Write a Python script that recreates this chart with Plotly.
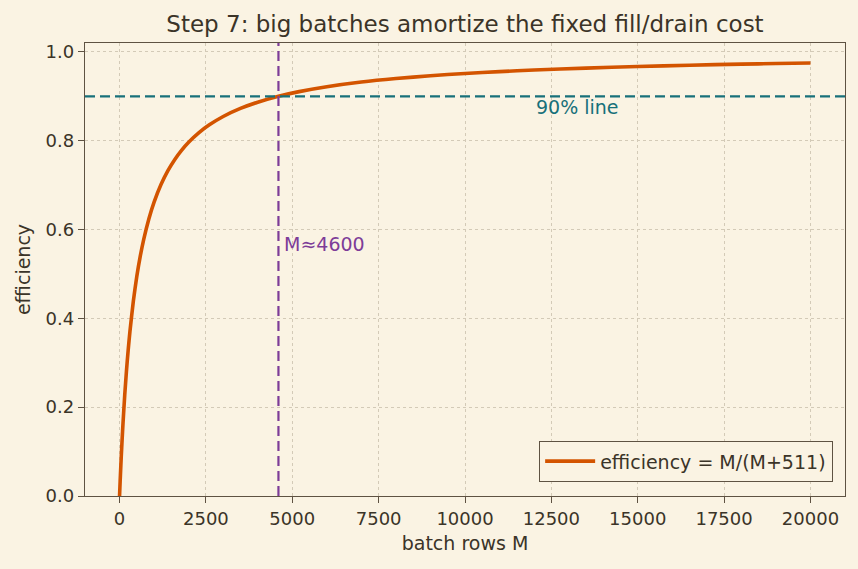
import plotly.graph_objects as go

# batch rows M and efficiency values
batch_rows = [0, 10, 25, 50, 75, 100, 150, 200, 250, 300, 400, 500, 600, 700, 850,
              1000, 1200, 1400, 1600, 1800, 2000, 2300, 2600, 3000, 3500, 4000,
              4600, 5200, 6000, 7000, 8000, 9000, 10000, 11000, 12000, 13500,
              15000, 16500, 18000, 19000, 20000]
efficiency = [0.0, 0.0192, 0.0466, 0.0891, 0.1280, 0.1637, 0.2269, 0.2813, 0.3285,
              0.3699, 0.4391, 0.4946, 0.5400, 0.5780, 0.6245, 0.6618, 0.7013,
              0.7326, 0.7579, 0.7789, 0.7965, 0.8182, 0.8357, 0.8545, 0.8726,
              0.8867, 0.9000, 0.9105, 0.9215, 0.9320, 0.9400, 0.9463, 0.9514,
              0.9556, 0.9592, 0.9635, 0.9671, 0.9700, 0.9724, 0.9738, 0.9751]

target_eff = 0.9
cross_M = 4600
x_ticks = [0, 2500, 5000, 7500, 10000, 12500, 15000, 17500, 20000]
y_ticks = [0.0, 0.2, 0.4, 0.6, 0.8, 1.0]

BG = "#faf3e3"
INK = "#3b3428"
SPINE = "#5e5242"
GRID = "#d3cab7"
ORANGE = "#d35400"
TEAL = "#17707a"
PURPLE = "#7d3c98"
FONT = "DejaVu Sans"
FS = 19

fig = go.Figure()
fig.add_trace(go.Scatter(
    x=batch_rows, y=efficiency, mode="lines",
    line=dict(color=ORANGE, width=3.6, shape="spline", smoothing=0.6),
    name="efficiency = M/(M+511)",
))

fig.add_hline(y=target_eff, line=dict(color=TEAL, width=2.2, dash="10px,5px"))
fig.add_vline(x=cross_M, line=dict(color=PURPLE, width=2.2, dash="10px,5px"))

fig.add_annotation(x=12000, y=0.876, text="90% line", showarrow=False,
                   xanchor="left", yanchor="middle",
                   font=dict(family=FONT, size=FS, color=TEAL))
fig.add_annotation(x=4700, y=0.567, text="M≈4600", showarrow=False,
                   xanchor="left", yanchor="middle",
                   font=dict(family=FONT, size=FS, color=PURPLE))

axis_common = dict(
    showline=True, linecolor=SPINE, linewidth=1.3, mirror=True,
    ticks="outside", ticklen=6, tickwidth=1.3, tickcolor=SPINE,
    showgrid=True, gridcolor=GRID, griddash="dot", gridwidth=0.8,
    zeroline=False,
    tickfont=dict(family=FONT, size=18, color=INK),
)

fig.update_layout(
    width=858, height=569,
    paper_bgcolor=BG, plot_bgcolor=BG,
    margin=dict(l=85, r=13, t=43, b=73),
    font=dict(family=FONT, color=INK),
    title=dict(text="Step 7: big batches amortize the fixed fill/drain cost",
               x=(85 + 845) / 2 / 858, xanchor="center", y=1 - 24 / 569, yanchor="middle",
               font=dict(family=FONT, size=23, color=INK)),
    xaxis=dict(range=[-1000, 21000], tickvals=x_ticks,
               ticktext=[str(v) for v in x_ticks],
               title=dict(text="batch rows M", font=dict(family=FONT, size=FS, color=INK), standoff=8),
               **axis_common),
    yaxis=dict(range=[0, 1.02], tickvals=y_ticks,
               ticktext=[f"{v:.1f}" for v in y_ticks],
               title=dict(text="efficiency", font=dict(family=FONT, size=FS, color=INK), standoff=9),
               **axis_common),
    showlegend=True,
    legend=dict(x=0.984, y=0.031, xanchor="right", yanchor="bottom",
                bgcolor=BG, bordercolor=SPINE, borderwidth=1.3, itemwidth=50,
                font=dict(family=FONT, size=FS, color=INK)),
)

fig.write_html("out.html")
